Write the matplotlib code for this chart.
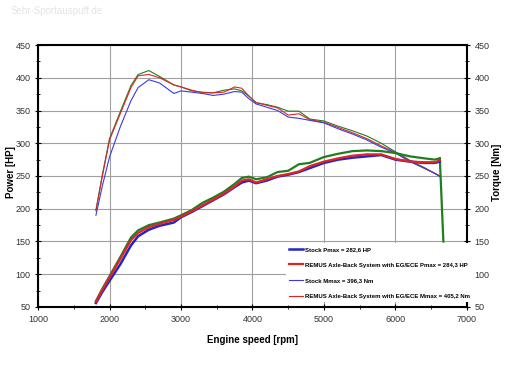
import numpy as np
import matplotlib
matplotlib.use('Agg')
import matplotlib.pyplot as plt
from matplotlib.ticker import MultipleLocator

plt.rcParams['font.family'] = ['Liberation Sans', 'DejaVu Sans']

# engine speed grid shared by all curves
rpm = [1810, 1900, 2000, 2150, 2300, 2400, 2550, 2700, 2900, 3000, 3150, 3300, 3450,
       3600, 3750, 3850, 3950, 4050, 4200, 4350, 4500, 4650, 4800, 5000, 5200, 5400,
       5600, 5800, 6000, 6200, 6400, 6550, 6620]

# power [HP]
p_stock = [56, 73, 90, 115, 144, 158, 168, 174, 179, 187, 195, 204, 213,
           222, 233, 240, 243, 239, 243, 249, 252, 256, 262, 270, 275, 278,
           280, 282, 275, 272, 270, 270, 272]
p_remus = [58, 76, 95, 123, 152, 163, 172, 177, 183, 188, 196, 205, 214,
           223, 234, 243, 245, 240, 245, 250, 253, 257, 265, 272, 277, 281,
           283, 283, 276, 272, 271, 271, 274]
p_other = [59, 78, 97, 126, 156, 167, 175, 179, 185, 190, 198, 209, 217,
           226, 238, 247, 249, 245, 248, 256, 258, 268, 270, 279, 284, 288,
           289, 288, 285, 280, 277, 275, 277]
p_other_end_rpm = [6620, 6670]
p_other_end = [277, 150]

# torque [Nm]
t_stock = [190, 235, 279, 325, 365, 385, 397, 392, 376, 380, 378, 376, 373,
           375, 379, 378, 368, 360, 355, 350, 340, 338, 335, 331, 322, 314,
           305, 294, 285, 272, 262, 254, 249]
t_remus = [197, 250, 305, 345, 385, 403, 405, 400, 389, 386, 381, 377, 377,
           378, 386, 384, 372, 362, 358, 354, 343, 345, 336, 332, 324, 316,
           307, 296, 286, 273, 262, 254, 250]
t_other = [198, 252, 307, 348, 388, 405, 411, 402, 389, 386, 380, 378, 377,
           381, 383, 380, 372, 362, 359, 355, 349, 349, 337, 334, 326, 319,
           311, 300, 287, 274, 263, 254, 250]

labels = ['Stock Pmax = 282,6 HP',
          'REMUS Axle-Back System with EG/ECE Pmax = 284,3 HP',
          'Stock Mmax = 396,3 Nm',
          'REMUS Axle-Back System with EG/ECE Mmax = 405,2 Nm']

blue = '#2424c8'
red = '#e02424'
green = '#1f7f1f'

fig = plt.figure(figsize=(5.18, 3.86), dpi=100)
ax = fig.add_axes([0.0734, 0.2047, 0.8281, 0.6787])

# torque (thin)
ax.plot(rpm, t_other, color=green, lw=0.8)
ax.plot(rpm, t_remus, color=red, lw=0.8, label=labels[3])
ax.plot(rpm, t_stock, color='#3a3ae0', lw=0.8, label=labels[2])

# power (thick)
ax.plot(rpm, p_other, color=green, lw=1.6)
ax.plot(p_other_end_rpm, p_other_end, color=green, lw=1.6)
ax.plot(rpm, p_stock, color=blue, lw=1.8, label=labels[0])
ax.plot(rpm, p_remus, color=red, lw=1.6, label=labels[1])

ax.set_xlim(1000, 7000)
ax.set_ylim(50, 450)
ax.xaxis.set_major_locator(MultipleLocator(1000))
ax.xaxis.set_minor_locator(MultipleLocator(500))
ax.yaxis.set_major_locator(MultipleLocator(50))
ax.yaxis.set_minor_locator(MultipleLocator(25))
ax.grid(True, which='major', color='#a0a0a0', lw=0.8)
ax.set_axisbelow(True)
for s in ax.spines.values():
    s.set_linewidth(1.5)
ax.tick_params(which='both', direction='inout', labelsize=6.5, labelcolor='#333333',
               right=True, labelright=True, pad=3)
ax.tick_params(which='major', length=5)
ax.tick_params(which='minor', length=3)

ax.set_xlabel('Engine speed [rpm]', fontsize=7, fontweight='bold', labelpad=8)
fig.text(0.021, 0.553, 'Power [HP]', rotation=90, fontsize=7, fontweight='bold',
         ha='center', va='center')
fig.text(0.96, 0.553, 'Torque [Nm]', rotation=90, fontsize=7, fontweight='bold',
         ha='center', va='center')

h, l = ax.get_legend_handles_labels()
order = [l.index(x) for x in labels]
leg = ax.legend([h[i] for i in order], [l[i] for i in order], loc='upper left',
                bbox_to_anchor=(0.57, 0.255), prop={'size': 4.3, 'weight': 'bold'},
                handlelength=2.4, handletextpad=0.2, labelspacing=1.75,
                frameon=True, facecolor='white', edgecolor='none', framealpha=1,
                borderpad=0.6)

fig.text(0.02, 0.965, 'Sehr-Sportauspuff.de', fontsize=7, color='#e4e4e4')

fig.savefig('out.png', dpi=100)
